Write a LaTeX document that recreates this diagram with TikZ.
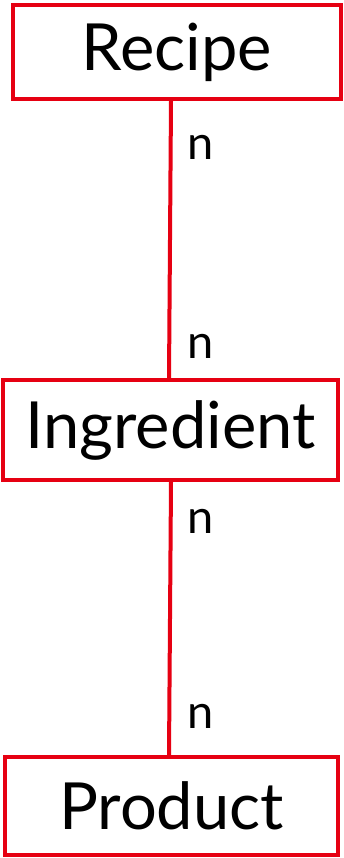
\documentclass[tikz,border=0pt]{standalone}
\usepackage{fontspec}
\setmainfont{Lato}
\usepackage{xcolor}
\definecolor{erred}{RGB}{230,0,18}

\begin{document}
\begin{tikzpicture}[x=1pt,y=-1pt,
 entity/.style={draw=erred,line width=4pt,inner sep=0pt,font=\fontsize{65}{65}\selectfont},
 rel/.style={draw=erred,line width=4pt},
 card/.style={anchor=west,inner sep=0pt,font=\fontsize{47}{47}\selectfont}]

\useasboundingbox (0,0) rectangle (344,858);

%Entities
\node[entity,minimum width=328pt,minimum height=94pt] (recipe) at (177,52) {Recipe};
\node[entity,minimum width=335pt,minimum height=100pt] (ingredient) at (170.5,430) {Ingredient};
\node[entity,minimum width=333pt,minimum height=98pt] (product) at (171.5,806) {Product};

%Relations
\coordinate (r1) at (171,0);
\coordinate (r2) at (169,0);
\draw[rel] (recipe.south -| r1) -- (ingredient.north -| r2);
\draw[rel] (ingredient.south -| r1) -- (product.north -| r2);

%Cardinalities
\node[card] (c1) at (187,147) {n};
\node[card] (c2) at (187,346) {n};
\node[card] (c3) at (187,521) {n};
\node[card] (c4) at (187,716) {n};

\end{tikzpicture}
\end{document}
